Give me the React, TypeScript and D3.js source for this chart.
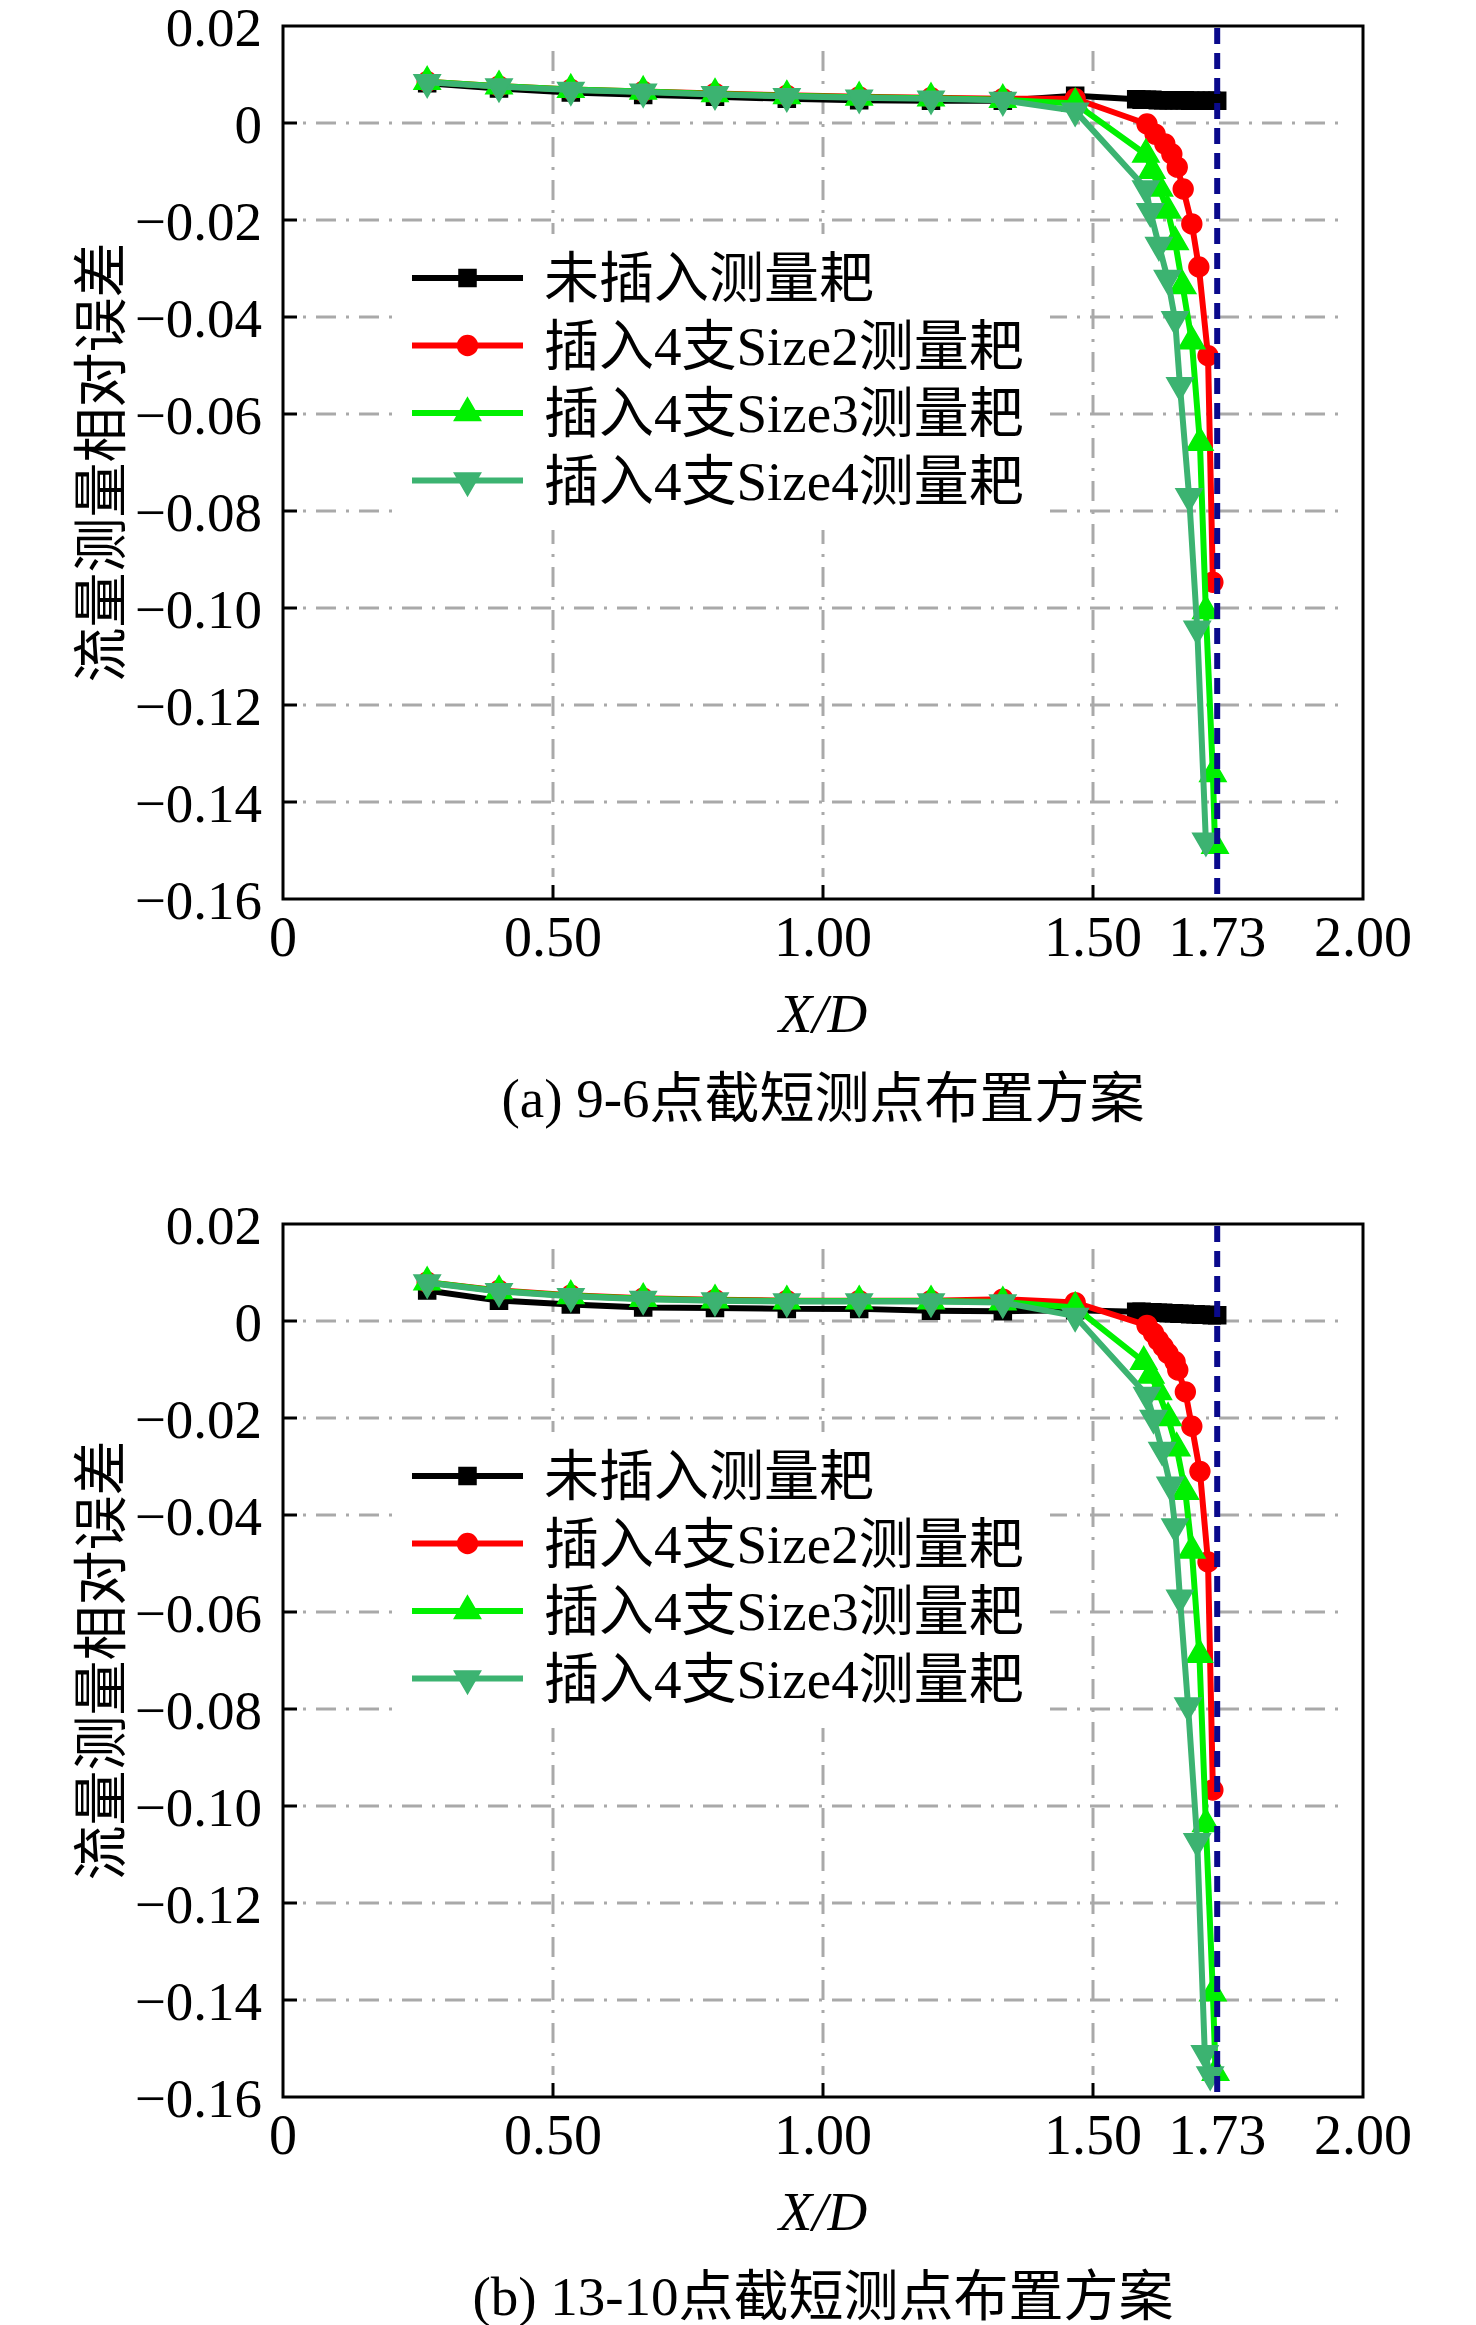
import React from 'react';
import * as d3 from 'd3';

// shared measurement stations along X/D
const xMain = [0.267, 0.4, 0.533, 0.667, 0.8, 0.933, 1.067, 1.2, 1.333, 1.467];
const xBlackTail = [1.58, 1.59, 1.6, 1.61, 1.62, 1.63, 1.64, 1.65, 1.66, 1.67, 1.68, 1.69, 1.7, 1.71, 1.72, 1.73];

// panel (a) 9-6
const aBlackY = [0.0082, 0.0071, 0.0063, 0.0058, 0.0054, 0.005, 0.0047, 0.0046, 0.0046, 0.0056];
const aBlackTailY = [0.0049, 0.0048, 0.0048, 0.0048, 0.0047, 0.0047, 0.0047, 0.0047, 0.0047, 0.0047, 0.0046, 0.0046, 0.0046, 0.0046, 0.0046, 0.0046];
const aRedY = [0.0085, 0.0076, 0.0069, 0.0065, 0.0061, 0.0057, 0.0054, 0.0052, 0.005, 0.005];
const aRedTailX = [1.6, 1.615, 1.633, 1.646, 1.656, 1.667, 1.683, 1.696, 1.713, 1.722];
const aRedTailY = [-0.0002, -0.0023, -0.0043, -0.0064, -0.0091, -0.0136, -0.0208, -0.0297, -0.048, -0.0947];
const aLimeY = [0.0085, 0.0076, 0.0069, 0.0065, 0.006, 0.0056, 0.0053, 0.0051, 0.0048, 0.004];
const aLimeTailX = [1.598, 1.609, 1.623, 1.638, 1.652, 1.666, 1.683, 1.698, 1.709, 1.722, 1.726];
const aLimeTailY = [-0.0065, -0.0098, -0.0135, -0.018, -0.0245, -0.0336, -0.045, -0.0659, -0.1006, -0.1342, -0.149];
const aDarkY = [0.0084, 0.0075, 0.0068, 0.0064, 0.0059, 0.0055, 0.0052, 0.005, 0.0047, 0.0025];
const aDarkTailX = [1.598, 1.606, 1.622, 1.638, 1.652, 1.661, 1.678, 1.693, 1.709];
const aDarkTailY = [-0.0135, -0.0182, -0.0252, -0.032, -0.0405, -0.0541, -0.077, -0.1043, -0.148];

// panel (b) 13-10
const bBlackY = [0.0063, 0.0042, 0.0034, 0.0028, 0.0027, 0.0025, 0.0025, 0.0021, 0.002, 0.0022];
const bBlackTailY = [0.0019, 0.0019, 0.0018, 0.0018, 0.0017, 0.0017, 0.0016, 0.0016, 0.0015, 0.0015, 0.0014, 0.0014, 0.0013, 0.0013, 0.0012, 0.0012];
const bRedY = [0.008, 0.0063, 0.0053, 0.0047, 0.0044, 0.0042, 0.0042, 0.0042, 0.0045, 0.0038];
const bRedTailX = [1.6, 1.612, 1.621, 1.63, 1.639, 1.652, 1.657, 1.671, 1.683, 1.698, 1.713, 1.722];
const bRedTailY = [-0.0009, -0.0025, -0.004, -0.0053, -0.0067, -0.0084, -0.0101, -0.0146, -0.0217, -0.031, -0.0497, -0.0967];
const bLimeY = [0.008, 0.0062, 0.0052, 0.0046, 0.0043, 0.0041, 0.0041, 0.0041, 0.0039, 0.0028];
const bLimeTailX = [1.594, 1.607, 1.621, 1.639, 1.655, 1.671, 1.683, 1.697, 1.709, 1.722, 1.727];
const bLimeTailY = [-0.0084, -0.0112, -0.0146, -0.02, -0.0262, -0.0352, -0.0473, -0.0688, -0.1037, -0.1386, -0.155];
const bDarkY = [0.0079, 0.0061, 0.0051, 0.0045, 0.0042, 0.004, 0.004, 0.004, 0.0038, 0.001];
const bDarkTailX = [1.6, 1.612, 1.628, 1.643, 1.652, 1.661, 1.676, 1.693, 1.707, 1.717];
const bDarkTailY = [-0.0153, -0.02, -0.0266, -0.0338, -0.0424, -0.0571, -0.0793, -0.1073, -0.151, -0.1554];

const seriesNames = ['未插入测量耙', '插入4支Size2测量耙', '插入4支Size3测量耙', '插入4支Size4测量耙'];
const seriesColors = ['#000000', '#ff0000', '#00f000', '#3cb371'];

const xTicks = [0, 0.5, 1.0, 1.5, 1.73, 2.0];
const xTickLabels = ['0', '0.50', '1.00', '1.50', '1.73', '2.00'];
const yTicks = [0.02, 0, -0.02, -0.04, -0.06, -0.08, -0.1, -0.12, -0.14, -0.16];
const yTickLabels = ['0.02', '0', '−0.02', '−0.04', '−0.06', '−0.08', '−0.10', '−0.12', '−0.14', '−0.16'];
const xGrid = [0.5, 1.0, 1.5];
const yGrid = [0, -0.02, -0.04, -0.06, -0.08, -0.1, -0.12, -0.14];
const cutX = 1.73;

const captions = ['(a) 9-6点截短测点布置方案', '(b) 13-10点截短测点布置方案'];

const serif = "'Liberation Serif', 'Times New Roman', 'Noto Sans CJK SC', serif";

const join = (xs: number[], ys: number[]) => xs.map((x, i) => [x, ys[i]] as [number, number]);

type PanelData = { black: [number, number][]; red: [number, number][]; lime: [number, number][]; dark: [number, number][] };

const panels: PanelData[] = [
  {
    black: [...join(xMain, aBlackY), ...join(xBlackTail, aBlackTailY)],
    red: [...join(xMain, aRedY), ...join(aRedTailX, aRedTailY)],
    lime: [...join(xMain, aLimeY), ...join(aLimeTailX, aLimeTailY)],
    dark: [...join(xMain, aDarkY), ...join(aDarkTailX, aDarkTailY)],
  },
  {
    black: [...join(xMain, bBlackY), ...join(xBlackTail, bBlackTailY)],
    red: [...join(xMain, bRedY), ...join(bRedTailX, bRedTailY)],
    lime: [...join(xMain, bLimeY), ...join(bLimeTailX, bLimeTailY)],
    dark: [...join(xMain, bDarkY), ...join(bDarkTailX, bDarkTailY)],
  },
];

const symSquare = d3.symbol().type(d3.symbolSquare).size(290)()!;
const symCircle = d3.symbol().type(d3.symbolCircle).size(310)()!;
const symTri = d3.symbol().type(d3.symbolTriangle).size(300)()!;
const markerPaths = [symSquare, symCircle, symTri, symTri];
const markerRot = [0, 0, 0, 180];

const Marker = ({ x, y, k }: { x: number; y: number; k: number }) => (
  <path
    d={markerPaths[k]}
    transform={`translate(${x},${y}) rotate(${markerRot[k]})`}
    fill={seriesColors[k]}
    stroke={seriesColors[k]}
    strokeWidth={1.5}
  />
);

const Panel = ({ data, top, caption }: { data: PanelData; top: number; caption: string }) => {
  const left = 283;
  const right = 1363;
  const h = 873;
  const x = d3.scaleLinear().domain([0, 2]).range([left, right]);
  const y = d3.scaleLinear().domain([-0.16, 0.02]).range([top + h, top]);
  const line = d3
    .line<[number, number]>()
    .x((d) => x(d[0]))
    .y((d) => y(d[1]));
  const list = [data.black, data.red, data.lime, data.dark];
  const legX0 = 412;
  const legX1 = 523;
  const legY = (i: number) => top + 252 + i * 67.5;
  const midX = (left + right) / 2;

  return (
    <g>
      {/* grid */}
      {yGrid.map((v) => (
        <line key={'gy' + v} x1={left + 20} x2={right - 22} y1={y(v)} y2={y(v)} stroke="#a9a9a9" strokeWidth={3} strokeDasharray="3 10 20 10" />
      ))}
      {xGrid.map((v) => (
        <line key={'gx' + v} x1={x(v)} x2={x(v)} y1={top + 25} y2={top + h - 22} stroke="#a9a9a9" strokeWidth={3} strokeDasharray="20 10 3 10" />
      ))}

      {/* legend box hides the grid */}
      <rect x={397} y={top + 208} width={653} height={296} fill="#ffffff" />
      {seriesNames.map((name, i) => (
        <g key={name}>
          <line x1={legX0} x2={legX1} y1={legY(i)} y2={legY(i)} stroke={seriesColors[i]} strokeWidth={6} />
          <Marker x={(legX0 + legX1) / 2} y={legY(i)} k={i} />
          <text x={544} y={legY(i)} dy="0.35em" fontSize={55} fontFamily={serif} fill="#000">
            {name}
          </text>
        </g>
      ))}

      {/* series */}
      {list.map((pts, k) => (
        <g key={'s' + k}>
          <path d={line(pts)!} fill="none" stroke={seriesColors[k]} strokeWidth={6} strokeLinejoin="round" />
          {pts.map((p, i) => (
            <Marker key={i} x={x(p[0])} y={y(p[1])} k={k} />
          ))}
        </g>
      ))}

      {/* cut position */}
      <line x1={x(cutX)} x2={x(cutX)} y1={top + 2} y2={top + h} stroke="#0a0a8c" strokeWidth={6} strokeDasharray="16 9" />

      {/* frame */}
      <rect x={left} y={top} width={right - left} height={h} fill="none" stroke="#000" strokeWidth={3} />
      {yTicks.slice(1, -1).map((v) => (
        <line key={'ty' + v} x1={left} x2={left + 14} y1={y(v)} y2={y(v)} stroke="#000" strokeWidth={3} />
      ))}
      {xGrid.map((v) => (
        <line key={'tx' + v} x1={x(v)} x2={x(v)} y1={top + h} y2={top + h - 14} stroke="#000" strokeWidth={3} />
      ))}

      {/* tick labels */}
      {yTicks.map((v, i) => (
        <text key={'ly' + v} x={left - 21} y={y(v)} dy="0.36em" textAnchor="end" fontSize={55} fontFamily={serif} fill="#000">
          {yTickLabels[i]}
        </text>
      ))}
      {xTicks.map((v, i) => (
        <text key={'lx' + v} x={x(v)} y={top + h + 57} textAnchor="middle" fontSize={56} fontFamily={serif} fill="#000">
          {xTickLabels[i]}
        </text>
      ))}

      <text x={midX} y={top + h + 133} textAnchor="middle" fontSize={55} fontFamily={serif} fontStyle="italic" fill="#000">
        X/D
      </text>
      <text
        transform={`translate(101,${top + h / 2}) rotate(-90)`}
        textAnchor="middle"
        dy="0.35em"
        fontSize={55}
        fontFamily={serif}
        fill="#000"
      >
        流量测量相对误差
      </text>
      <text x={midX} y={top + h + 218} textAnchor="middle" fontSize={55} fontFamily={serif} fill="#000">
        {caption}
      </text>
    </g>
  );
};

export default function App() {
  return (
    <svg width={1476} height={2325} style={{ position: 'absolute', left: 0, top: 0, background: '#fff' }}>
      <rect width={1476} height={2325} fill="#fff" />
      <Panel data={panels[0]} top={26} caption={captions[0]} />
      <Panel data={panels[1]} top={1224} caption={captions[1]} />
    </svg>
  );
}
